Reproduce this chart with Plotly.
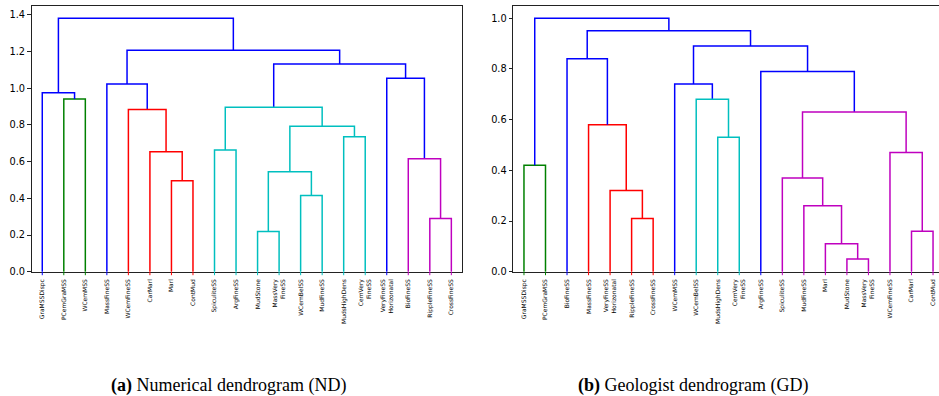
import plotly.graph_objects as go

# ---------------- Numerical dendrogram (ND) ----------------
nd_leaves = ["GraMSSDispc", "PCemGraMSS", "WCemMSS", "MassFineSS", "WCemFineSS",
             "CarMarl", "Marl", "ContMud", "SpiculiteSS", "ArgFineSS",
             "MudStone", "MassVery<br>FineSS", "WCemBelSS", "MudFineSS", "MudsHighDens",
             "CemVery<br>FineSS", "VeryFineSS<br>Horizonatal", "BioFineSS", "RippleFineSS", "CrossFineSS"]
# linkage rows: ids 0..19 are leaves (in display order), 20.. are clusters in row order
nd_left = [1, 0, 6, 5, 4, 3, 8, 10, 12, 27, 14, 29, 26, 18, 17, 16, 32, 25, 21]
nd_right = [2, 20, 7, 22, 23, 24, 9, 11, 13, 28, 15, 30, 31, 19, 33, 34, 35, 36, 37]
nd_height = [0.942, 0.975, 0.496, 0.654, 0.884, 1.023, 0.664, 0.219, 0.416, 0.545,
             0.736, 0.793, 0.897, 0.290, 0.616, 1.055, 1.132, 1.207, 1.382]
nd_color = ["g", "b", "r", "r", "r", "b", "c", "c", "c", "c",
            "c", "c", "c", "m", "m", "b", "b", "b", "b"]

# ---------------- Geologist dendrogram (GD) ----------------
gd_leaves = ["GraMSSDispc", "PCemGraMSS", "BioFineSS", "MassFineSS", "VeryFineSS<br>Horizonatal",
             "RippleFineSS", "CrossFineSS", "WCemMSS", "WCemBelSS", "MudsHighDens",
             "CemVery<br>FineSS", "ArgFineSS", "SpiculiteSS", "MudFineSS", "Marl",
             "MudStone", "MassVery<br>FineSS", "WCemFineSS", "CarMarl", "ContMud"]
gd_left = [0, 5, 4, 3, 2, 9, 8, 7, 15, 14, 13, 12, 18, 17, 31, 11, 27, 24, 20]
gd_right = [1, 6, 21, 22, 23, 10, 25, 26, 16, 28, 29, 30, 19, 32, 33, 34, 35, 36, 37]
gd_height = [0.42, 0.21, 0.32, 0.58, 0.84, 0.53, 0.68, 0.74, 0.05, 0.11,
             0.26, 0.37, 0.16, 0.47, 0.63, 0.79, 0.89, 0.95, 1.00]
gd_color = ["g", "r", "r", "r", "b", "c", "c", "b", "m", "m",
            "m", "m", "m", "m", "m", "b", "b", "b", "b"]

COLORS = {"b": "#0000ff", "g": "#008000", "r": "#ff0000", "c": "#00bfbf", "m": "#bf00bf"}

W, H = 939, 396
Y_BOTTOM_PX, Y_TOP_PX = 271.7, 5.5
Y_DOMAIN = [1 - Y_BOTTOM_PX / H, 1 - Y_TOP_PX / H]
X_DOMAINS = [[31.5 / W, 462.4 / W], [513.2 / W, 1.0]]
PX_PER_UNIT = 2.153  # horizontal pixels per dendrogram x unit


def build_links(n, left, right, height, color):
    """U-shaped link paths grouped by colour, plus the colour reaching each leaf."""
    pos = {i: 5 + 10 * i for i in range(n)}
    lev = {i: 0.0 for i in range(n)}
    paths = {}
    leaf_col = {}
    for k, (a, b, h, c) in enumerate(zip(left, right, height, color)):
        xs, ys = paths.setdefault(c, ([], []))
        xs += [pos[a], pos[a], pos[b], pos[b], None]
        ys += [lev[a], h, h, lev[b], None]
        node = n + k
        pos[node] = (pos[a] + pos[b]) / 2
        lev[node] = h
        for child in (a, b):
            if child < n:
                leaf_col[child] = c
    return paths, leaf_col


fig = go.Figure()
panels = [
    (nd_leaves, nd_left, nd_right, nd_height, nd_color, [0, 0.2, 0.4, 0.6, 0.8, 1.0, 1.2, 1.4]),
    (gd_leaves, gd_left, gd_right, gd_height, gd_color, [0, 0.2, 0.4, 0.6, 0.8, 1.0]),
]

tick_len = 3.5 / (Y_BOTTOM_PX - Y_TOP_PX)
for p, (leaves, left, right, height, color, yticks) in enumerate(panels):
    n = len(leaves)
    xa = "x" if p == 0 else "x2"
    ya = "y" if p == 0 else "y2"
    paths, leaf_col = build_links(n, left, right, height, color)
    for c, (xs, ys) in paths.items():
        fig.add_trace(go.Scatter(x=xs, y=ys, mode="lines", xaxis=xa, yaxis=ya,
                                 line=dict(color=COLORS[c], width=1.5),
                                 hoverinfo="skip", showlegend=False))
    # coloured leaf ticks below the axis
    for i in range(n):
        fig.add_shape(type="line", xref=xa, yref=ya + " domain",
                      x0=5 + 10 * i, x1=5 + 10 * i, y0=0, y1=-tick_len,
                      line=dict(color=COLORS[leaf_col[i]], width=1))

    x_len = (X_DOMAINS[p][1] - X_DOMAINS[p][0]) * W / PX_PER_UNIT
    sfx = "" if p == 0 else "2"
    fig.layout["xaxis" + sfx] = dict(
        domain=X_DOMAINS[p], anchor=ya, range=[0, x_len], automargin=False,
        tickvals=[5 + 10 * i for i in range(n)], ticktext=leaves,
        tickangle=-90, ticks="outside", ticklen=4, tickcolor="rgba(0,0,0,0)",
        tickfont=dict(family="DejaVu Sans", size=6, color="black"),
        showline=True, linecolor="#222", linewidth=1, mirror=True,
        showgrid=False, zeroline=False, fixedrange=True,
    )
    fig.layout["yaxis" + sfx] = dict(
        domain=Y_DOMAIN, anchor=xa, range=[0, max(height) * 1.05], automargin=False,
        tickvals=yticks, ticktext=[f"{v:.1f}" for v in yticks],
        ticks="outside", ticklen=3.5, tickwidth=1, tickcolor="#222",
        tickfont=dict(family="DejaVu Sans", size=9.8, color="black"),
        showline=True, linecolor="#222", linewidth=1, mirror=(p == 0),
        showgrid=False, zeroline=False, fixedrange=True,
    )

captions = [("<b>(a)</b> Numerical dendrogram (ND)", 228.5),
            ("<b>(b)</b> Geologist dendrogram (GD)", 692.5)]
for text, cx in captions:
    fig.add_annotation(text=text, xref="paper", yref="paper", x=cx / W, y=(H - 385.5) / H,
                       xanchor="center", yanchor="middle", showarrow=False,
                       font=dict(family="Liberation Serif", size=18, color="black"))

fig.update_layout(width=W, height=H, margin=dict(l=0, r=0, t=0, b=0),
                  paper_bgcolor="white", plot_bgcolor="white", showlegend=False)

fig.write_html("out.html", config={"displayModeBar": False})
